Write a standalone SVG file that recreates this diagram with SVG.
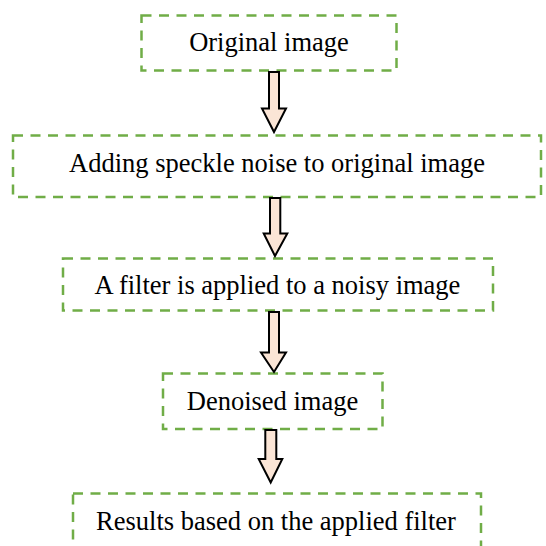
<svg xmlns="http://www.w3.org/2000/svg" width="546" height="546" viewBox="0 0 546 546">
<style>
.box{fill:#ffffff;stroke:#70ad47;stroke-width:2.5;stroke-dasharray:10 7.5}
.arr{fill:#fbe5d6;stroke:#000000;stroke-width:2;stroke-linejoin:miter}
</style>
<rect width="546" height="546" fill="#ffffff"/>
<g font-family="Liberation Serif, Times New Roman, serif" font-size="26.5" fill="#000000" text-anchor="middle">
<g id="n1"><rect class="box" x="141.5" y="15.5" width="255" height="55"/><text x="269" y="51">Original image</text></g>
<g id="n2"><rect class="box" x="13" y="135.5" width="528" height="61.5"/><text x="277" y="172">Adding speckle noise to original image</text></g>
<g id="n3"><rect class="box" x="63" y="258.5" width="430" height="52"/><text x="277.5" y="293.5">A filter is applied to a noisy image</text></g>
<g id="n4"><rect class="box" x="163" y="373.5" width="219.5" height="55.5"/><text x="272.5" y="409.5">Denoised image</text></g>
<g id="n5"><rect class="box" x="73" y="493.5" width="408" height="70"/><text x="276" y="529.5">Results based on the applied filter</text></g>
</g>
<g id="connectors">
<polygon class="arr" points="269,72 279,72 279,108.5 286,108.5 274,132 262,108.5 269,108.5"/>
<polygon class="arr" points="270,198 280.3,198 280.3,233.5 287.3,233.5 275,256 263.7,233.5 270,233.5"/>
<polygon class="arr" points="269,312 279,312 279,352.5 286,352.5 274,372 261,352.5 269,352.5"/>
<polygon class="arr" points="265.3,430 276.3,430 276.3,459 282.3,459 270.7,482.5 258.7,459 265.3,459"/>
</g>
</svg>
